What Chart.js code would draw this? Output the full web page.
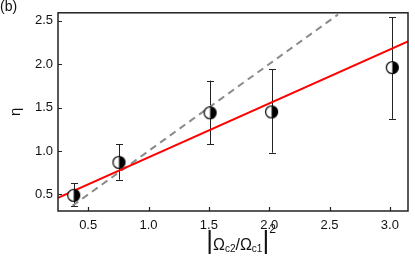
<!DOCTYPE html>
<html>
<head>
<meta charset="utf-8">
<script src="https://cdn.jsdelivr.net/npm/chart.js@4/dist/chart.umd.min.js"></script>
<style>
  html, body { margin: 0; padding: 0; background: #fff; }
  #wrap { width: 415px; height: 256px; }
</style>
</head>
<body>
<div id="wrap"><canvas id="myChart" width="415" height="256"></canvas></div>
<script>
"use strict";

// measured points (x, eta) and their error bars
const xVals = [0.38, 0.755, 1.51, 2.02, 3.02],
  etaVals = [0.49, 0.87, 1.44, 1.45, 1.96],
  errLow = [0.37, 0.67, 1.08, 0.98, 1.37],
  errHigh = [0.63, 1.08, 1.81, 1.94, 2.54];

// red fit and grey dashed guide (y = x)
const fitX = [0.25, 3.15],
  fitY = [0.46, 2.26],
  guideX = [0.37, 2.57],
  guideY = [0.37, 2.57];

const xTicks = [0.5, 1.0, 1.5, 2.0, 2.5, 3.0],
  yTicks = [0.5, 1.0, 1.5, 2.0, 2.5];

const FONT = "'Liberation Sans', Arial, sans-serif";

// half filled circle marker: open left, black right
function halfDot() {
  const c = document.createElement("canvas");
  c.width = 15; c.height = 15;
  const g = c.getContext("2d");
  g.fillStyle = "#fff";
  g.beginPath(); g.arc(7.5, 7.5, 6, 0, Math.PI * 2); g.fill();
  g.fillStyle = "#000";
  g.beginPath(); g.arc(7.5, 7.5, 6, -Math.PI / 2, Math.PI / 2); g.closePath(); g.fill();
  g.strokeStyle = "#000"; g.lineWidth = 1.2;
  g.beginPath(); g.arc(7.5, 7.5, 6, 0, Math.PI * 2); g.stroke();
  return c;
}

const toXY = (xs, ys) => xs.map((x, i) => ({ x: x, y: ys[i] }));

const errorBars = {
  id: "errorBars",
  beforeDatasetsDraw(chart) {
    const ctx = chart.ctx, xs = chart.scales.x, ys = chart.scales.y;
    ctx.save();
    ctx.strokeStyle = "#222";
    ctx.lineWidth = 1;
    xVals.forEach((x, i) => {
      const px = Math.round(xs.getPixelForValue(x)) + 0.5,
        top = ys.getPixelForValue(errHigh[i]),
        bot = ys.getPixelForValue(errLow[i]);
      ctx.beginPath();
      ctx.moveTo(px, top); ctx.lineTo(px, bot);
      ctx.moveTo(px - 3.5, Math.round(top) + 0.5); ctx.lineTo(px + 3.5, Math.round(top) + 0.5);
      ctx.moveTo(px - 3.5, Math.round(bot) + 0.5); ctx.lineTo(px + 3.5, Math.round(bot) + 0.5);
      ctx.stroke();
    });
    ctx.restore();
  }
};

// frame, inward ticks, panel label and x title with sub/superscripts
const frame = {
  id: "frame",
  afterDraw(chart) {
    const ctx = chart.ctx, a = chart.chartArea, xs = chart.scales.x, ys = chart.scales.y;
    ctx.save();
    ctx.strokeStyle = "#222";
    ctx.lineWidth = 1.5;
    ctx.strokeRect(a.left, a.top, a.right - a.left, a.bottom - a.top);
    ctx.lineWidth = 1.2;
    ctx.beginPath();
    xs.ticks.forEach(t => {
      const px = Math.round(xs.getPixelForValue(t.value)) + 0.5;
      ctx.moveTo(px, a.bottom); ctx.lineTo(px, a.bottom - 4);
    });
    ys.ticks.forEach(t => {
      const py = Math.round(ys.getPixelForValue(t.value)) + 0.5;
      ctx.moveTo(a.left, py); ctx.lineTo(a.left + 4, py);
    });
    ctx.stroke();

    ctx.fillStyle = "#111";
    ctx.textBaseline = "alphabetic";
    ctx.font = "14px " + FONT;
    ctx.fillText("(b)", 0, 11);

    // text, size, baseline shift
    const parts = [
      ["|", 26, -1], ["\u03A9", 16, 0], ["c2", 10, 2], ["/", 16, 0],
      ["\u03A9", 16, 0], ["c1", 10, 2], ["|", 26, -1], ["2", 12, -17]
    ];
    let w = 0;
    parts.forEach(p => { ctx.font = p[1] + "px " + FONT; w += ctx.measureText(p[0]).width; });
    let x = (a.left + a.right) / 2 + 8 - w / 2;
    const base = 250;
    parts.forEach(p => {
      ctx.font = p[1] + "px " + FONT;
      ctx.fillText(p[0], x, base + p[2]);
      x += ctx.measureText(p[0]).width;
    });
    ctx.restore();
  }
};

const chart = new Chart(document.getElementById("myChart").getContext("2d"), {
  type: "scatter",
  data: {
    datasets: [
      {
        label: "data",
        data: toXY(xVals, etaVals),
        pointStyle: halfDot(),
        pointRadius: 6,
        showLine: false
      },
      {
        label: "fit",
        data: toXY(fitX, fitY),
        showLine: true,
        borderColor: "#ff0000",
        borderWidth: 2,
        pointRadius: 0
      },
      {
        label: "guide",
        data: toXY(guideX, guideY),
        showLine: true,
        borderColor: "#8a8a8a",
        borderWidth: 2,
        borderDash: [7, 5],
        pointRadius: 0
      }
    ]
  },
  options: {
    responsive: false,
    animation: false,
    layout: { padding: { top: 8, right: 1, left: 0, bottom: 0 } },
    plugins: { legend: { display: false }, tooltip: { enabled: false } },
    scales: {
      x: {
        type: "linear",
        min: 0.25,
        max: 3.15,
        afterBuildTicks: s => { s.ticks = xTicks.map(v => ({ value: v })); },
        afterFit: s => { s.height = 45; },
        grid: { display: false, drawTicks: false },
        border: { display: false },
        ticks: {
          padding: 7,
          color: "#111",
          font: { family: FONT, size: 13 },
          callback: v => v.toFixed(1)
        }
      },
      y: {
        min: 0.31,
        max: 2.59,
        afterBuildTicks: s => { s.ticks = yTicks.map(v => ({ value: v })); },
        afterFit: s => { s.width = 58; },
        grid: { display: false, drawTicks: false },
        border: { display: false },
        title: {
          display: true,
          text: "\u03B7",
          color: "#111",
          font: { family: FONT, size: 15 },
          padding: { top: 7, bottom: 0 }
        },
        ticks: {
          padding: 5,
          color: "#111",
          font: { family: FONT, size: 13 },
          callback: v => v.toFixed(1)
        }
      }
    }
  },
  plugins: [errorBars, frame]
});
</script>
</body>
</html>
